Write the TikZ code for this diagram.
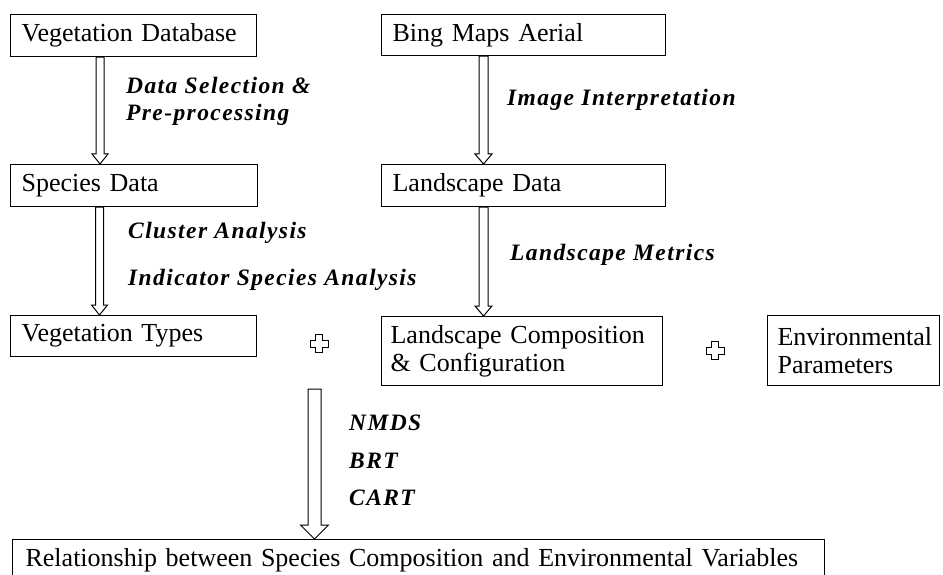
\documentclass[tikz,border=0pt]{standalone}
\usepackage{fontspec}
\setmainfont{Liberation Serif}
\newfontfamily\methodfont[LetterSpace=6]{Liberation Serif}
\usetikzlibrary{calc}
\tikzset{
	stage/.style={draw, line width=1.2pt, rectangle, anchor=north west, inner xsep=11pt, inner ysep=0pt,
			align=left, font=\fontsize{26}{28}\selectfont},
	method/.style={anchor=west, align=left, inner sep=0pt, font=\fontsize{23.5}{27}\methodfont\bfseries\itshape},
	hollow/.style={draw, line width=1pt, fill=white},
	plussign/.pic={
			\draw[line width=1.1pt] (-3.5pt,9pt) -- (3.5pt,9pt) -- (3.5pt,3.5pt) -- (9pt,3.5pt) -- (9pt,-3.5pt)
				-- (3.5pt,-3.5pt) -- (3.5pt,-9pt) -- (-3.5pt,-9pt) -- (-3.5pt,-3.5pt) -- (-9pt,-3.5pt)
				-- (-9pt,3.5pt) -- (-3.5pt,3.5pt) -- cycle;
		}
}
% hollow block arrow: start, end, shaft half width, head half width, head length
\newcommand{\blockarrow}[5]{%
	\draw[hollow] let \p1=#1, \p2=#2 in (\x1-#3,\y1) -- (\x1-#3,\y2+#5) -- (\x1-#4,\y2+#5) -- (\x1,\y2)
		-- (\x1+#4,\y2+#5) -- (\x1+#3,\y2+#5) -- (\x1+#3,\y1) -- cycle;}

\begin{document}
\begin{tikzpicture}[x=1pt,y=1pt]
	\useasboundingbox (0,0) rectangle (943,574);

	\node[stage, text width=224pt, minimum height=42pt] (vd) at (10,560) {Vegetation Database};
	\node[stage, text width=262pt, minimum height=41pt] (bma) at (381,560) {Bing Maps Aerial};
	\node[stage, text width=225pt, minimum height=42pt] (sd) at (10,410) {Species Data};
	\node[stage, text width=262pt, minimum height=42pt] (ld) at (381,410) {Landscape Data};
	\node[stage, text width=224pt, minimum height=41pt] (vt) at (10,259) {Vegetation Types};
	\node[stage, text width=263pt, minimum height=69pt, inner xsep=9pt] (lc) at (381,258) {Landscape Composition\\\& Configuration};
	\node[stage, text width=152pt, minimum height=70pt, inner xsep=10pt] (env) at (767,259) {Environmental\\Parameters};
	\node[stage, text width=786pt, minimum height=42pt, inner xsep=13pt] (rel) at (12,35)
		{Relationship between Species Composition and Environmental Variables};

	\blockarrow{([xshift=90pt]vd.south west)}{(sd.north)}{4pt}{8pt}{10pt}
	\blockarrow{([xshift=102.5pt]bma.south west)}{(ld.north)}{4.5pt}{8.5pt}{10pt}
	\blockarrow{([xshift=89.5pt]sd.south west)}{(vt.north)}{4pt}{8pt}{10pt}
	\blockarrow{([xshift=102.5pt]ld.south west)}{(lc.north)}{4.5pt}{8.5pt}{10pt}

	\coordinate (join) at (314.5,185);
	\blockarrow{(join)}{(rel.north)}{6.5pt}{14pt}{14pt}

	\pic at ($(vt.east)!.5!(lc.west)$) {plussign};
	\pic at ($(lc.east)!.5!(env.west)$) {plussign};

	\node[method] (dsel) at (126,472.5) {Data Selection \&\\Pre-processing};
	\node[method] (iint) at (507,474) {Image Interpretation};
	\node[method] (clus) at (128,341) {Cluster Analysis};
	\node[method] (isa) at (128,294) {Indicator Species Analysis};
	\node[method] (lmet) at (510,319) {Landscape Metrics};
	\node[method] (nmds) at (349,151) {NMDS};
	\node[method] (brt) at (349,113) {BRT};
	\node[method] (cart) at (349,76) {CART};
\end{tikzpicture}
\end{document}
